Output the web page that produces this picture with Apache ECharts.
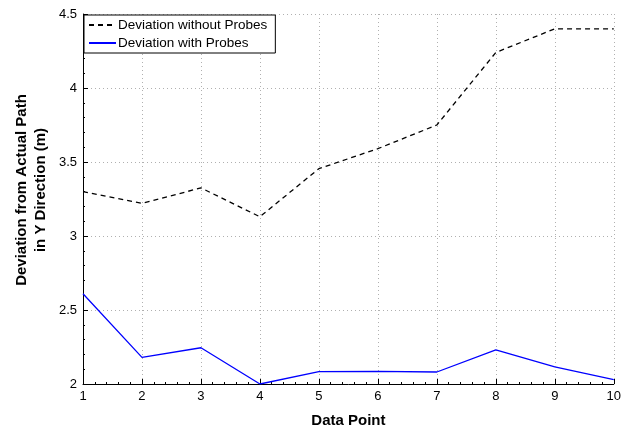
<!DOCTYPE html>
<html>
<head>
<meta charset="utf-8">
<script src="https://cdn.jsdelivr.net/npm/echarts@6/dist/echarts.min.js"></script>
<style>
  html, body { margin: 0; padding: 0; background: #fff; }
  #chart { width: 624px; height: 433px; }
</style>
</head>
<body>
<div id="chart"></div>
<script>
// Deviation in Y direction at each data point
const dataPoints = [1, 2, 3, 4, 5, 6, 7, 8, 9, 10];
const withoutProbes = [3.30, 3.22, 3.325, 3.13, 3.455, 3.59, 3.75, 4.24, 4.40, 4.40];
const withProbes = [2.61, 2.18, 2.245, 2.00, 2.083, 2.085, 2.081, 2.23, 2.115, 2.03];
const seriesNames = ['Deviation without Probes', 'Deviation with Probes'];

const pairs = (ys) => dataPoints.map((x, i) => [x, ys[i]]);

const font = 'Liberation Sans, Arial, Helvetica, sans-serif';
const gridLine = { show: true, lineStyle: { color: '#b0b0b0', type: [1, 3], width: 1 } };

const chart = echarts.init(document.getElementById('chart'), null, { renderer: 'canvas' });
chart.setOption({
  animation: false,
  backgroundColor: '#ffffff',
  grid: { left: 83, right: 9, top: 14, bottom: 48, containLabel: false },
  legend: {
    left: 84, top: 15,
    orient: 'vertical',
    backgroundColor: '#ffffff',
    borderColor: '#000000',
    borderWidth: 1,
    padding: [3, 8, 3, 4],
    itemGap: 4,
    itemWidth: 27,
    itemHeight: 14,
    // line-only keys: the marker dot is hidden
    itemStyle: { opacity: 0 },
    textStyle: { fontFamily: font, fontSize: 13.5, color: '#000', padding: [0, 0, 0, -3] },
    data: seriesNames
  },
  xAxis: {
    type: 'value', min: 1, max: 10, interval: 1,
    name: 'Data Point', nameLocation: 'middle', nameGap: 29,
    nameTextStyle: { fontFamily: font, fontSize: 15, fontWeight: 'bold', color: '#000' },
    axisLine: { show: true, onZero: false, lineStyle: { color: '#000', width: 1 } },
    axisTick: { show: true, inside: true, length: 5, lineStyle: { color: '#000' } },
    minorTick: { show: true, splitNumber: 5, length: 2, lineStyle: { color: '#000' } },
    axisLabel: { fontFamily: font, fontSize: 13, color: '#000', margin: 6 },
    splitLine: gridLine
  },
  yAxis: {
    type: 'value', min: 2, max: 4.5, interval: 0.5,
    name: 'Deviation from Actual Path\nin Y Direction (m)', nameLocation: 'middle', nameGap: 33,
    nameMoveOverlap: false,
    nameTextStyle: {
      fontFamily: font, fontSize: 15, fontWeight: 'bold', color: '#000',
      lineHeight: 19, padding: [0, 0, 0, 18]
    },
    axisLine: { show: true, onZero: false, lineStyle: { color: '#000', width: 1 } },
    axisTick: { show: true, inside: true, length: 5, lineStyle: { color: '#000' } },
    minorTick: { show: true, splitNumber: 5, length: 2, lineStyle: { color: '#000' } },
    axisLabel: { fontFamily: font, fontSize: 13, color: '#000', margin: 6 },
    splitLine: gridLine
  },
  series: [
    {
      name: seriesNames[0], type: 'line', data: pairs(withoutProbes),
      symbol: 'none', color: '#000000',
      lineStyle: { color: '#000000', width: 1.3, type: [5, 4] }
    },
    {
      name: seriesNames[1], type: 'line', data: pairs(withProbes),
      symbol: 'none', color: '#0000ff',
      lineStyle: { color: '#0000ff', width: 1.3, type: 'solid' }
    }
  ]
});
</script>
</body>
</html>
